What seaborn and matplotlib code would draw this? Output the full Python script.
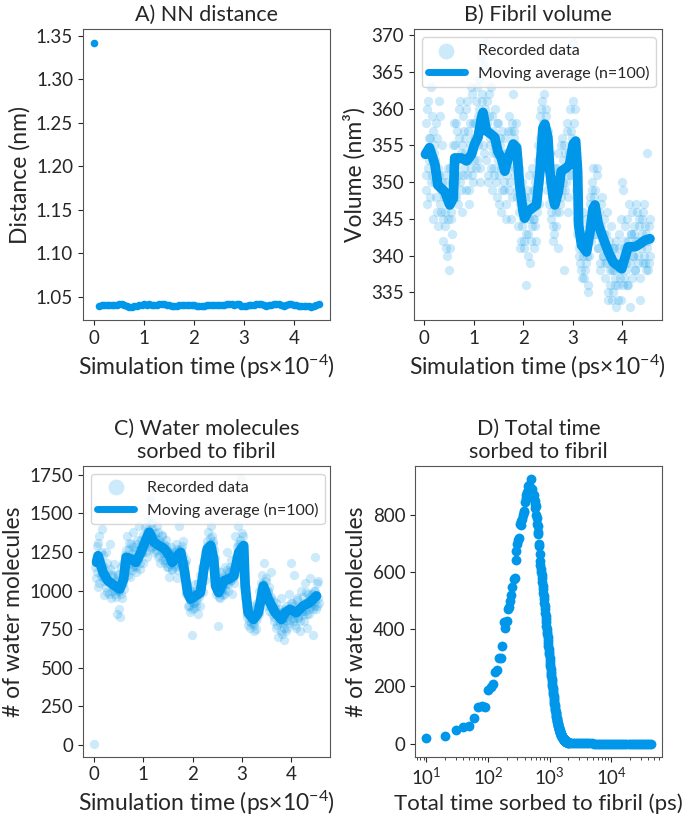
import matplotlib
matplotlib.use('Agg')
import matplotlib.pyplot as plt
import seaborn as sns
import numpy as np

sns.set_style('ticks')
plt.rcParams['font.family'] = ['Lato', 'DejaVu Sans']
plt.rcParams['mathtext.fontset'] = 'custom'
plt.rcParams['mathtext.rm'] = 'Lato'
plt.rcParams['mathtext.it'] = 'Lato:italic'

blue = '#0096EA'

# A) nearest-neighbour distance (nm), first frame then every 0.05 (x1e4 ps)
nn_first = 1.342
nn_dist = [1.039, 1.040, 1.040, 1.040, 1.040, 1.040, 1.040, 1.040, 1.041, 1.041,
           1.040, 1.039, 1.038, 1.038, 1.039, 1.039, 1.040, 1.040, 1.041, 1.040,
           1.041, 1.040, 1.040, 1.040, 1.041, 1.041, 1.041, 1.040, 1.040, 1.039,
           1.039, 1.039, 1.040, 1.040, 1.040, 1.040, 1.040, 1.040, 1.040, 1.039,
           1.039, 1.039, 1.039, 1.040, 1.040, 1.040, 1.040, 1.040, 1.040, 1.040,
           1.040, 1.041, 1.041, 1.041, 1.040, 1.041, 1.041, 1.039, 1.039, 1.039,
           1.040, 1.040, 1.040, 1.041, 1.041, 1.041, 1.040, 1.039, 1.040, 1.040,
           1.041, 1.041, 1.041, 1.040, 1.039, 1.040, 1.041, 1.041, 1.040, 1.040,
           1.039, 1.039, 1.039, 1.039, 1.039, 1.038, 1.039, 1.040, 1.042]

# B) fibril volume (nm^3), recorded every 0.01 from 0.02 (two interleaved reads)
vol_even = [354, 349, 360, 352, 356, 348, 363, 351, 357, 355,
            350, 358, 346, 352, 361, 347, 349, 355, 345, 351,
            346, 341, 350, 345, 338, 352, 346, 343, 349, 358,
            355, 348, 357, 351, 360, 350, 354, 346, 359, 352,
            356, 349, 361, 353, 347, 358, 352, 362, 350, 356,
            358, 352, 363, 355, 360, 350, 367, 357, 362, 359,
            354, 369, 357, 361, 351, 359, 355, 363, 349, 357,
            352, 360, 354, 348, 358, 351, 355, 346, 357, 353,
            349, 356, 345, 354, 352, 359, 350, 357, 348, 362,
            357, 351, 355, 349, 344, 352, 347, 342, 350, 345,
            341, 348, 336, 346, 343, 351, 339, 347, 344, 349,
            345, 350, 342, 348, 353, 347, 356, 360, 352, 358,
            362, 355, 359, 352, 357, 350, 354, 346, 351, 344,
            343, 349, 346, 352, 341, 350, 347, 355, 349, 353,
            338, 354, 350, 357, 348, 353, 360, 351, 356, 369,
            358, 352, 354, 345, 349, 340, 344, 338, 342, 346,
            337, 343, 339, 341, 335, 344, 340, 347, 342, 349,
            352, 345, 349, 343, 351, 341, 346, 339, 344, 348,
            340, 345, 337, 343, 339, 334, 341, 336, 344, 338,
            335, 341, 337, 333, 340, 336, 343, 338, 334, 350,
            349, 337, 342, 339, 345, 336, 341, 333, 343, 346,
            340, 344, 338, 347, 342, 339, 345, 334, 341, 343,
            346, 340, 344, 338, 354, 342, 339, 345]
vol_odd = [358, 351, 347, 361, 353, 356, 350, 359, 345, 354,
           353, 348, 356, 344, 351, 359, 346, 350, 342, 348,
           344, 348, 340, 352, 347, 341, 345, 350, 355, 348,
           350, 358, 353, 347, 356, 361, 349, 355, 351, 357,
           354, 360, 351, 357, 349, 355, 363, 351, 358, 353,
           356, 361, 353, 359, 364, 352, 358, 361, 355, 366,
           360, 353, 358, 350, 362, 356, 352, 359, 354, 351,
           355, 350, 358, 353, 347, 356, 352, 349, 354, 350,
           353, 347, 351, 357, 349, 354, 345, 358, 353, 356,
           352, 358, 348, 353, 346, 341, 349, 344, 347, 342,
           346, 343, 349, 340, 345, 348, 342, 352, 345, 341,
           349, 344, 351, 346, 355, 350, 359, 354, 361, 356,
           357, 353, 360, 349, 355, 347, 350, 345, 348, 342,
           347, 352, 344, 350, 354, 346, 351, 348, 356, 350,
           355, 349, 352, 358, 346, 354, 351, 357, 353, 361,
           355, 360, 349, 343, 346, 341, 339, 343, 337, 340,
           342, 338, 345, 340, 336, 343, 348, 344, 350, 345,
           348, 343, 346, 352, 341, 344, 338, 347, 342, 340,
           343, 339, 341, 346, 335, 342, 338, 340, 334, 341,
           338, 336, 342, 339, 334, 341, 337, 345, 339, 336,
           341, 344, 338, 336, 342, 347, 339, 343, 337, 340,
           343, 338, 342, 346, 340, 344, 337, 342, 345, 339,
           342, 347, 339, 343, 341, 338, 344, 340]

vol_ma_t = [0.03, 0.11, 0.22, 0.28, 0.42, 0.52, 0.59, 0.62, 0.75, 0.86,
            0.96, 1.02, 1.09, 1.16, 1.19, 1.26, 1.36, 1.43, 1.49, 1.56,
            1.63, 1.70, 1.80, 1.87, 1.93, 2.00, 2.03, 2.10, 2.17, 2.27,
            2.34, 2.40, 2.44, 2.50, 2.54, 2.61, 2.64, 2.71, 2.77, 2.88,
            2.94, 3.01, 3.06, 3.10, 3.12, 3.18, 3.28, 3.35, 3.41, 3.45,
            3.52, 3.62, 3.72, 3.82, 3.92, 3.99, 4.05, 4.12, 4.26, 4.36,
            4.46, 4.56]
vol_ma = [353.8, 354.7, 352.4, 349.6, 348.7, 346.9, 347.8, 353.3, 353.3, 352.9,
          353.8, 355.2, 356.1, 358.8, 359.5, 357.0, 356.5, 356.1, 354.2, 353.3,
          351.5, 353.3, 355.2, 354.7, 349.6, 346.0, 345.1, 346.0, 346.4, 346.9,
          351.5, 357.4, 357.9, 356.1, 351.5, 347.8, 346.9, 348.7, 351.5, 352.0,
          352.4, 355.2, 355.6, 351.5, 344.2, 341.4, 340.5, 343.2, 346.4, 346.9,
          344.2, 342.3, 340.5, 339.1, 338.6, 338.2, 339.6, 341.2, 341.2, 341.6,
          342.1, 342.3]

# C) water molecules sorbed, first frame at 0 then every 0.01 (two reads)
water_first = 10
water_even = [1150, 1080, 1290, 1020, 1350, 1200, 1100, 1400, 1160, 970,
              1080, 1250, 990, 1120, 1060, 1300, 950, 1100, 1030, 1170,
              980, 1060, 850, 1110, 1000, 830, 1150, 950, 1040, 1010,
              1230, 1120, 1350, 1180, 1270, 1090, 1300, 1150, 1240, 1380,
              1160, 1260, 1120, 1330, 1210, 1420, 1180, 1290, 1250, 1360,
              1300, 1410, 1250, 1380, 1460, 1320, 1590, 1280, 1400, 1350,
              1250, 1370, 1300, 1420, 1220, 1330, 1180, 1290, 1360, 1240,
              1300, 1200, 1330, 1150, 1260, 1090, 1220, 1280, 1130, 1190,
              1250, 1160, 1300, 1080, 1220, 1420, 1180, 1270, 1150, 1320,
              1100, 1180, 980, 1050, 900, 1010, 860, 950, 710, 920,
              980, 890, 1040, 930, 1000, 850, 960, 1100, 1020, 1150,
              1090, 1200, 1250, 1160, 1320, 1380, 1240, 1300, 1420, 1270,
              1320, 1180, 1060, 980, 1090, 770, 1020, 950, 1120, 1010,
              1100, 980, 1150, 1050, 1250, 1000, 1120, 1060, 1200, 980,
              1140, 1050, 1350, 1180, 1280, 1420, 1200, 1300, 1720, 1250,
              1350, 1180, 1000, 900, 850, 780, 880, 760, 820, 900,
              790, 850, 740, 880, 810, 920, 860, 1000, 940, 1050,
              1100, 980, 1180, 950, 1060, 900, 1000, 870, 950, 1120,
              850, 930, 800, 890, 760, 840, 700, 880, 790, 950,
              720, 860, 680, 830, 900, 760, 850, 980, 810, 1180,
              920, 800, 1100, 850, 760, 940, 820, 880, 740, 1000,
              870, 960, 800, 1050, 900, 760, 980, 850, 1080, 920,
              980, 710, 900, 1000, 1220, 880, 1050, 950]
water_odd = [1200, 1120, 1310, 1050, 1180, 1250, 1090, 1160, 1230, 1060,
             1110, 1020, 1180, 1070, 980, 1140, 1050, 1000, 1090, 1010,
             1050, 960, 1100, 1000, 880, 1040, 980, 1080, 1180, 1120,
             1150, 1260, 1200, 1100, 1310, 1170, 1220, 1130, 1280, 1190,
             1210, 1150, 1300, 1200, 1260, 1140, 1330, 1240, 1180, 1300,
             1280, 1350, 1220, 1400, 1310, 1380, 1270, 1440, 1330, 1290,
             1340, 1260, 1300, 1380, 1230, 1310, 1270, 1350, 1200, 1290,
             1240, 1180, 1290, 1210, 1150, 1250, 1170, 1230, 1140, 1200,
             1170, 1240, 1190, 1270, 1130, 1260, 1210, 1150, 1290, 1230,
             1180, 1120, 1200, 1030, 970, 900, 1000, 930, 880, 960,
             920, 1000, 900, 960, 1050, 980, 900, 1020, 1060, 990,
             1150, 1070, 1180, 1290, 1210, 1260, 1340, 1290, 1350, 1300,
             1260, 1210, 1140, 1050, 1000, 960, 1060, 990, 1040, 970,
             1030, 1090, 1010, 1080, 1130, 1040, 1100, 1150, 1070, 1110,
             1080, 1150, 1100, 1220, 1160, 1300, 1250, 1330, 1280, 1370,
             1260, 1100, 950, 1020, 830, 870, 800, 850, 790, 830,
             820, 780, 860, 750, 830, 900, 850, 960, 1010, 990,
             1040, 1000, 960, 1080, 930, 990, 1020, 900, 960, 880,
             900, 830, 870, 920, 780, 860, 810, 850, 740, 800,
             790, 760, 830, 880, 740, 810, 870, 790, 860, 920,
             850, 900, 820, 780, 870, 950, 830, 900, 800, 860,
             900, 840, 920, 870, 990, 850, 930, 880, 960, 900,
             940, 880, 1000, 930, 970, 900, 1060, 920]

water_ma_t = [0.05, 0.08, 0.18, 0.28, 0.42, 0.52, 0.60, 0.65, 0.75, 0.85,
              0.95, 1.06, 1.12, 1.22, 1.32, 1.43, 1.53, 1.59, 1.69, 1.76,
              1.83, 1.90, 1.96, 2.06, 2.16, 2.23, 2.30, 2.37, 2.43, 2.47,
              2.53, 2.64, 2.74, 2.84, 2.94, 3.04, 3.07, 3.13, 3.24, 3.34,
              3.44, 3.54, 3.68, 3.81, 3.88, 3.98, 4.11, 4.25, 4.38, 4.52]
water_ma = [1182, 1225, 1117, 1063, 1030, 1009, 1074, 1215, 1204, 1182,
            1247, 1334, 1377, 1312, 1291, 1269, 1225, 1182, 1225, 1247,
            1139, 987, 944, 965, 987, 1139, 1269, 1291, 1204, 1030,
            987, 1063, 1074, 1095, 1247, 1291, 1030, 857, 813, 857,
            1030, 944, 857, 813, 857, 878, 857, 900, 922, 965]

# D) distribution of total sorbed time, 10 ps bins
sorb_counts = [18, 25, 46, 58, 62, 90, 128, 130, 127, 186,
               198, 210, 249, 256, 298, 300, 342, 425, 405, 430,
               470, 478, 500, 520, 547, 577, 580, 643, 675, 700,
               712, 720, 770, 780, 765, 785, 800, 815, 810, 845,
               860, 870, 880, 900, 865, 890, 905, 885, 895, 925,
               890, 880, 870, 860, 870, 855, 850, 840, 825, 830,
               800, 790, 770, 760, 740, 735, 700, 690, 665, 640,
               625, 612, 600, 590, 578, 565, 552, 540, 528, 515,
               505, 493, 482, 470, 458, 447, 436, 425, 413, 402,
               392, 382, 372, 362, 352, 342, 332, 322, 312, 300,
               290, 280, 270, 260, 252, 243, 235, 226, 218, 210,
               202, 194, 186, 179, 172, 165, 158, 152, 146, 140,
               134, 128, 122, 117, 112, 107, 102, 98, 94, 90,
               86, 82, 78, 75, 72, 69, 66, 63, 60, 57,
               54, 52, 50, 48, 46, 44, 42, 40, 38, 36,
               35, 33, 32, 30, 29, 28, 27, 26, 25, 24,
               23, 22, 21, 20, 19, 18, 17, 16, 15, 15,
               14, 13, 13, 12, 12, 11, 11, 10, 10, 9,
               9, 8, 8, 8, 7, 7, 7, 6, 6, 6,
               5, 5, 5, 5, 4, 4, 4, 4, 3, 3]
tail_time = [2100, 2250, 2400, 2600, 2800, 3000, 3250, 3500, 3800, 4100,
             4400, 4800, 5200, 5600, 6000, 6500, 7000, 7600, 8200, 8900,
             9600, 10400, 11200, 12100, 13100, 14100, 15200, 16400, 17700, 19100,
             20600, 22200, 24000, 25900, 28000, 30200, 32600, 35200, 38000, 41000,
             44500]
tail_counts = [3, 2, 2, 2, 1, 1, 1, 1, 1, 1,
               1, 1, 0, 0, 0, 0, 0, 0, 0, 0,
               0, 0, 0, 0, 0, 0, 0, 0, 0, 0,
               0, 0, 0, 0, 0, 0, 0, 0, 0, 0,
               0]

nn_t = np.concatenate([[0.0], np.linspace(0.1, 4.5, len(nn_dist))])
nn_y = np.concatenate([[nn_first], nn_dist])
vol_t = np.concatenate([np.linspace(0.02, 4.56, len(vol_even)),
                        np.linspace(0.03, 4.57, len(vol_odd))])
vol_y = np.concatenate([vol_even, vol_odd])
water_t = np.concatenate([[0.0], np.linspace(0.02, 4.56, len(water_even)),
                          np.linspace(0.03, 4.57, len(water_odd))])
water_y = np.concatenate([[water_first], water_even, water_odd])
sorb_t = np.concatenate([np.arange(1, len(sorb_counts) + 1) * 10, tail_time])
sorb_y = np.concatenate([sorb_counts, tail_counts])

fig = plt.figure(figsize=(6.85, 8.19), dpi=100)
axA = fig.add_axes([0.121, 0.609, 0.361, 0.355])
axB = fig.add_axes([0.604, 0.609, 0.362, 0.355])
axC = fig.add_axes([0.121, 0.076, 0.361, 0.355])
axD = fig.add_axes([0.606, 0.076, 0.361, 0.355])

tfs = 15.5
lfs = 16.5
xlab = r'Simulation time (ps$\times10^{-4}$)'

sns.scatterplot(x=nn_t, y=nn_y, ax=axA, color=blue, s=30, linewidth=0)
axA.set_title('A) NN distance', fontsize=tfs)
axA.set_ylabel('Distance (nm)', fontsize=lfs)
axA.set_xlabel(xlab, fontsize=lfs)
axA.set_yticks([1.05, 1.10, 1.15, 1.20, 1.25, 1.30, 1.35])

line_kw = dict(lw=7, solid_joinstyle='round', solid_capstyle='round')

sns.scatterplot(x=vol_t, y=vol_y, ax=axB, color=blue, s=45, alpha=0.2,
                linewidth=0, label='Recorded data')
sns.lineplot(x=vol_ma_t, y=vol_ma, ax=axB, color=blue,
             label='Moving average (n=100)', **line_kw)
axB.set_title('B) Fibril volume', fontsize=tfs)
axB.set_ylabel('Volume (nm³)', fontsize=lfs)
axB.set_xlabel(xlab, fontsize=lfs)
axB.set_yticks([335, 340, 345, 350, 355, 360, 365, 370])

sns.scatterplot(x=water_t, y=water_y, ax=axC, color=blue, s=45, alpha=0.2,
                linewidth=0, label='Recorded data')
sns.lineplot(x=water_ma_t, y=water_ma, ax=axC, color=blue,
             label='Moving average (n=100)', **line_kw)
axC.set_title('C) Water molecules\nsorbed to fibril', fontsize=tfs)
axC.set_ylabel('# of water molecules', fontsize=lfs)
axC.set_xlabel(xlab, fontsize=lfs)
axC.set_yticks([0, 250, 500, 750, 1000, 1250, 1500, 1750])

sns.scatterplot(x=sorb_t, y=sorb_y, ax=axD, color=blue, s=50, linewidth=0)
axD.set_xscale('log')
axD.set_xticks([10, 100, 1000, 10000])
axD.set_yticks([0, 200, 400, 600, 800])
axD.set_title('D) Total time\nsorbed to fibril', fontsize=tfs)
axD.set_ylabel('# of water molecules', fontsize=lfs)
axD.set_xlabel('Total time sorbed to fibril (ps)', fontsize=16)

for ax in [axB, axC]:
    leg = ax.legend(loc='upper left', fontsize=11.5, markerscale=1.7,
                    handlelength=2.3, frameon=True)
    leg.get_lines()[0].set_linewidth(5)
    ax.set_xticks([0, 1, 2, 3, 4])
axA.set_xticks([0, 1, 2, 3, 4])

for ax in [axA, axB, axC, axD]:
    ax.tick_params(labelsize=13.5)
    for sp in ax.spines.values():
        sp.set_color('#555555')

fig.savefig('out.png', dpi=100)
